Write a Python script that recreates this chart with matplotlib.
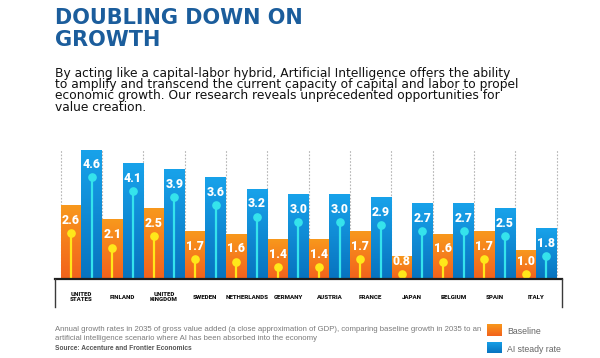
import numpy as np
import matplotlib
matplotlib.use("Agg")
import matplotlib.pyplot as plt
from matplotlib.colors import LinearSegmentedColormap

countries = ["UNITED\nSTATES", "FINLAND", "UNITED\nKINGDOM", "SWEDEN", "NETHERLANDS",
             "GERMANY", "AUSTRIA", "FRANCE", "JAPAN", "BELGIUM", "SPAIN", "ITALY"]
baseline = [2.6, 2.1, 2.5, 1.7, 1.6, 1.4, 1.4, 1.7, 0.8, 1.6, 1.7, 1.0]
ai_rate = [4.6, 4.1, 3.9, 3.6, 3.2, 3.0, 3.0, 2.9, 2.7, 2.7, 2.5, 1.8]

TITLE_BLUE = "#1b5d9c"
ORANGE_CM = LinearSegmentedColormap.from_list("o", ["#f8981d", "#f2621c"])
BLUE_CM = LinearSegmentedColormap.from_list("b", ["#18a2ea", "#0873bf"])
STICK = {"o": "#ffe81a", "b": "#35e3ec"}

W, H = 600, 358
fig = plt.figure(figsize=(W / 100, H / 100), dpi=100)
fig.patch.set_facecolor("white")

# ejes del gráfico: caja de 55 a 562 px, base en y=279.3 px, tope 4.6 en y=150 px
ax = fig.add_axes([55 / W, 1 - 279.3 / H, 507 / W, 129.3 / H])
ymax = 4.6
xlim = (-0.5 - 5.7 / 41.3, len(countries) - 0.5 + 5.3 / 41.3)
ax.axis("off")

x = np.arange(len(countries))
grad = np.linspace(0, 1, 64).reshape(-1, 1)

# líneas punteadas entre grupos
for xb in np.arange(len(countries) + 1) - 0.5:
    ax.plot([xb, xb], [0, ymax], color="#b5b5b5", lw=0.8, ls=(0, (1.5, 1.5)), zorder=1)


def barras(xs, vals, cmap, key):
    rects = ax.bar(xs, vals, width=0.5, color="none", zorder=2)
    for r, v in zip(rects, vals):
        x0, x1 = r.get_x(), r.get_x() + r.get_width()
        ax.imshow(grad, cmap=cmap, aspect="auto", extent=(x0, x1, 0, v),
                  origin="upper", zorder=2, interpolation="bicubic")
        xc = (x0 + x1) / 2
        ly = max(v - 0.52, 0.62)
        cy = max(ly - 0.45, 0.2)
        ax.plot([xc, xc], [0, cy], color=STICK[key], lw=1.6, zorder=3,
                solid_capstyle="butt")
        ax.plot(xc, cy, "o", ms=5.2, color=STICK[key], zorder=4)
        ax.text(xc, ly, f"{v:.1f}", color="white", fontsize=8.8, fontweight="black",
                family=["Roboto", "DejaVu Sans"], ha="center", va="center", zorder=5)


barras(x - 0.25, baseline, ORANGE_CM, "o")
barras(x + 0.25, ai_rate, BLUE_CM, "b")
ax.set_xlim(*xlim)
ax.set_ylim(0, ymax)

# caja de etiquetas de países
box_h = 27.7 / 129.3
ax.plot([0, 1], [0, 0], transform=ax.transAxes, color="#1e1e1e", lw=1.6,
        clip_on=False, zorder=6)
for xe in (0, 1):
    ax.plot([xe, xe], [0, -box_h], transform=ax.transAxes, color="#3a3a3a", lw=1.0,
            clip_on=False, zorder=6)
for xi, c in zip(x, countries):
    ax.text(xi, -0.63, c, ha="center", va="center", fontsize=4.4, fontweight="black",
            family=["Roboto", "DejaVu Sans"], color="#111111", linespacing=1.0,
            clip_on=False)

# título y texto
fig.text(55 / W, 1 - 8 / H, "DOUBLING DOWN ON\nGROWTH", color=TITLE_BLUE,
         fontsize=15, fontweight="bold", family="DejaVu Sans",
         ha="left", va="top", linespacing=1.12)
fig.text(55 / W, 1 - 67 / H,
         "By acting like a capital-labor hybrid, Artificial Intelligence offers the ability\n"
         "to amplify and transcend the current capacity of capital and labor to propel\n"
         "economic growth. Our research reveals unprecedented opportunities for\n"
         "value creation.",
         color="#111111", fontsize=8.85, family="DejaVu Sans",
         ha="left", va="top", linespacing=0.82)

fig.text(55 / W, 1 - 334 / H,
         "Annual growth rates in 2035 of gross value added (a close approximation of GDP), "
         "comparing baseline growth in 2035 to an\n"
         "artificial intelligence scenario where AI has been absorbed into the economy",
         color="#7a7a7a", fontsize=5.6, family=["Liberation Sans", "DejaVu Sans"],
         ha="left", va="center", linespacing=1.55)
fig.text(55 / W, 1 - 348.5 / H, "Source: Accenture and Frontier Economics",
         color="#555555", fontsize=4.8, fontweight="bold",
         family=["Liberation Sans", "DejaVu Sans"], ha="left", va="center")

# leyenda
for (y0, cmap, lab) in [(324, ORANGE_CM, "Baseline"), (341.7, BLUE_CM, "AI steady rate")]:
    lax = fig.add_axes([487 / W, 1 - (y0 + 11.7) / H, 15 / W, 11.7 / H])
    lax.imshow(grad, cmap=cmap, aspect="auto", interpolation="bicubic")
    lax.axis("off")
    fig.text(507 / W, 1 - (y0 + 7.5) / H, lab, color="#666666", fontsize=6.3,
             family=["Liberation Sans", "DejaVu Sans"], ha="left", va="center")

fig.savefig("out.png", dpi=100, facecolor="white")
